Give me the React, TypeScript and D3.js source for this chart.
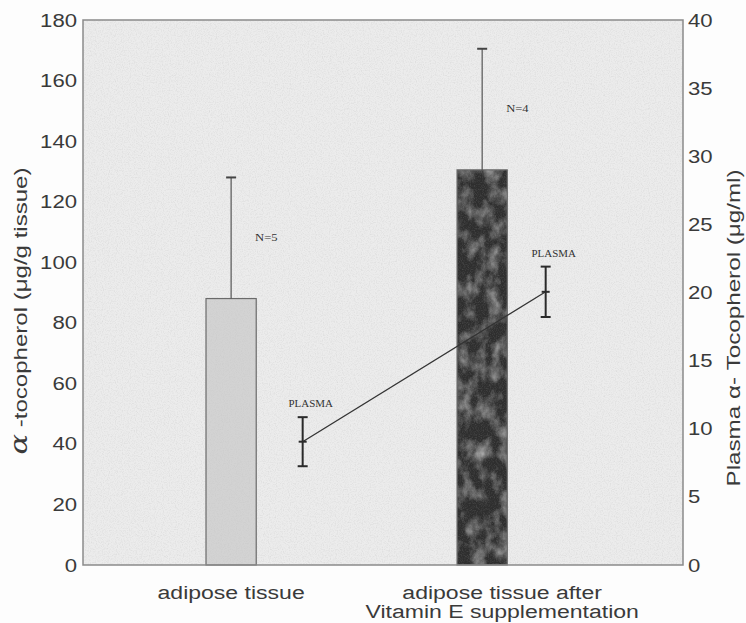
import React from "react";
import * as d3 from "d3";

// ---- data ----
const categories = ["adipose tissue", "adipose tissue after|Vitamin E supplementation"];
const tissueMean = [88, 130.5];
const tissueSD = [40, 40];
const sampleSize = ["N=5", "N=4"];
const plasmaMean = [9.05, 20.05];
const plasmaSD = [1.8, 1.85];
const plasmaLabel = ["PLASMA", "PLASMA"];
const leftTicks = [0, 20, 40, 60, 80, 100, 120, 140, 160, 180];
const rightTicks = [0, 5, 10, 15, 20, 25, 30, 35, 40];
const leftTitle = "-tocopherol (μg/g tissue)";
const rightTitle = "Plasma α- Tocopherol (μg/ml)";

// ---- layout ----
const W = 746, H = 623;
const M = { left: 83, right: 683, top: 20, bottom: 565 };
const PLASMA_SHIFT = [0.285, 0.253];
const LABEL_SHIFT = [0, 20];
const TXT = "#3a3a3a";
const SANS = "'Liberation Sans', Arial, Helvetica, sans-serif";
const SERIF = "'Liberation Serif', 'Times New Roman', serif";

export default function App() {
  const x = d3.scaleLinear().domain([-0.59, 1.8]).range([M.left, M.right]);
  const yL = d3.scaleLinear().domain([0, 180]).range([M.bottom, M.top]);
  const yR = d3.scaleLinear().domain([0, 40]).range([M.bottom, M.top]);
  const barW = x(0.2) - x(0);
  const cap = 5;

  const plasmaPts: [number, number][] = plasmaMean.map((v, i) => [x(i + PLASMA_SHIFT[i]), yR(v)]);
  const line = d3.line()(plasmaPts) || "";

  return (
    <svg width={W} height={H} style={{ position: "absolute", left: 0, top: 0, background: "#fdfdfd" }}>
      <defs>
        <filter id="grain" x="0" y="0" width="100%" height="100%">
          <feTurbulence type="fractalNoise" baseFrequency="0.85" numOctaves="2" seed="4" result="n" />
          <feColorMatrix in="n" type="matrix"
            values="0 0 0 0 0.45  0 0 0 0 0.45  0 0 0 0 0.45  1.2 0 0 0 -0.5" result="g" />
          <feComposite in="g" in2="SourceGraphic" operator="in" />
        </filter>
        <filter id="mottle" x="0" y="0" width="100%" height="100%">
          <feTurbulence type="fractalNoise" baseFrequency="0.07 0.05" numOctaves="4" seed="11" result="n" />
          <feColorMatrix in="n" type="matrix"
            values="0 0 0 0 0.6  0 0 0 0 0.6  0 0 0 0 0.6  1.5 0 0 0 -0.62" result="s" />
          <feComposite in="s" in2="SourceGraphic" operator="in" />
        </filter>
      </defs>

      {/* plot background */}
      <rect x={M.left} y={M.top} width={M.right - M.left} height={M.bottom - M.top} fill="#ececec" />
      <rect x={M.left} y={M.top} width={M.right - M.left} height={M.bottom - M.top} fill="#000" filter="url(#grain)" opacity={0.45} />

      {/* bars */}
      {tissueMean.map((v, i) => {
        const bx = x(i) - barW / 2;
        const by = yL(v);
        const bh = yL(0) - by;
        return (
          <g key={"bar" + i}>
            <rect x={bx} y={by} width={barW} height={bh} fill={i === 0 ? "#d3d3d3" : "#2e2e2e"} />
            {i === 1 && <rect x={bx} y={by} width={barW} height={bh} fill="#000" filter="url(#mottle)" />}
            <rect x={bx} y={by} width={barW} height={bh} fill="#000" filter="url(#grain)" opacity={0.35} />
            <rect x={bx} y={by} width={barW} height={bh} fill="none" stroke="#6a6a6a" strokeWidth={1.2} />
            <line x1={x(i)} x2={x(i)} y1={by} y2={yL(v + tissueSD[i])} stroke="#555" strokeWidth={1.2} />
            <line x1={x(i) - cap} x2={x(i) + cap} y1={yL(v + tissueSD[i])} y2={yL(v + tissueSD[i])} stroke="#444" strokeWidth={2} />
            <text transform={`translate(${x(i) + 24},${yL(v + 19)}) scale(1.2,1)`} fontFamily={SERIF} fontSize={10.5} fill="#333">
              {sampleSize[i]}
            </text>
          </g>
        );
      })}

      {/* frame */}
      <rect x={M.left} y={M.top} width={M.right - M.left} height={M.bottom - M.top} fill="none" stroke="#8a8a8a" strokeWidth={1.5} />

      {/* plasma line + error bars */}
      <path d={line} fill="none" stroke="#333" strokeWidth={1.3} />
      {plasmaMean.map((v, i) => {
        const px = plasmaPts[i][0];
        const lo = yR(v - plasmaSD[i]);
        const hi = yR(v + plasmaSD[i]);
        return (
          <g key={"pl" + i}>
            <line x1={px} x2={px} y1={lo} y2={hi} stroke="#2a2a2a" strokeWidth={2} />
            <line x1={px - cap} x2={px + cap} y1={lo} y2={lo} stroke="#2a2a2a" strokeWidth={2} />
            <line x1={px - cap} x2={px + cap} y1={hi} y2={hi} stroke="#2a2a2a" strokeWidth={2} />
            <line x1={px - 4} x2={px + 4} y1={yR(v)} y2={yR(v)} stroke="#2a2a2a" strokeWidth={2} />
            <text transform={`translate(${px + 8},${hi - 10}) scale(1.15,1)`} textAnchor="middle" fontFamily={SERIF} fontSize={9.5} fill="#333">
              {plasmaLabel[i]}
            </text>
          </g>
        );
      })}

      {/* left axis ticks */}
      {leftTicks.map((t) => (
        <text key={"l" + t} transform={`translate(77,${yL(t) + 6.5}) scale(1.23,1)`} textAnchor="end" fontFamily={SANS} fontSize={18} fill={TXT}>
          {t}
        </text>
      ))}
      {/* right axis ticks */}
      {rightTicks.map((t) => (
        <text key={"r" + t} transform={`translate(688,${yR(t) + 6.5}) scale(1.23,1)`} textAnchor="start" fontFamily={SANS} fontSize={18} fill={TXT}>
          {t}
        </text>
      ))}

      {/* category labels */}
      {categories.map((c, i) =>
        c.split("|").map((ln, j) => (
          <text key={"c" + i + j} transform={`translate(${x(i) + LABEL_SHIFT[i]},${599 + j * 19}) scale(1.28,1)`} textAnchor="middle" fontFamily={SANS} fontSize={18} fill={TXT}>
            {ln}
          </text>
        ))
      )}

      {/* axis titles */}
      <text transform={`translate(27,311) rotate(-90)`} textAnchor="middle" fontFamily={SANS} fontSize={19} fill={TXT}
        textLength={287} lengthAdjust="spacingAndGlyphs">
        <tspan fontFamily="'DejaVu Serif', serif" fontStyle="italic" fontSize={24}>α</tspan>
        <tspan> {leftTitle}</tspan>
      </text>
      <text transform={`translate(740,328) rotate(-90)`} textAnchor="middle" fontFamily={SANS} fontSize={18} fill={TXT}
        textLength={317} lengthAdjust="spacingAndGlyphs">
        {rightTitle}
      </text>
    </svg>
  );
}
